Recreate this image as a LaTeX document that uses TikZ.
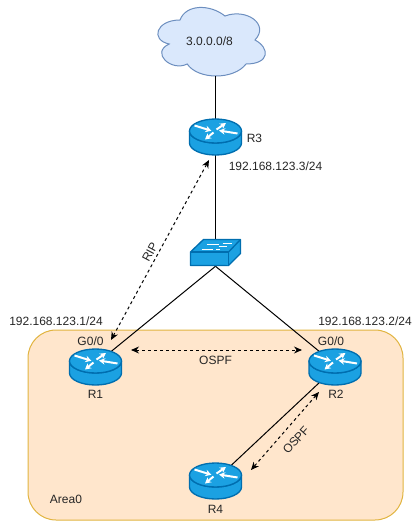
\documentclass[tikz,border=0pt]{standalone}
\usepackage{xcolor}
\usepackage{fontspec}
\setmainfont{Liberation Sans}
\usetikzlibrary{arrows.meta,shapes.geometric}
\definecolor{iconfill}{HTML}{1BA1E2}
\definecolor{iconline}{HTML}{006EAF}
\definecolor{cloudfill}{HTML}{DAE8FC}
\definecolor{cloudline}{HTML}{6C8EBF}
\definecolor{areafill}{HTML}{FFE6CC}
\definecolor{arealine}{HTML}{D79B00}
\tikzset{
  RouterSpot/.style={ellipse, minimum width=39pt, minimum height=27pt, inner sep=0pt},
  SwitchSpot/.style={rectangle, minimum width=38.25pt, minimum height=20.25pt, inner sep=0pt},
  IconBody/.style={draw=iconline, fill=iconfill, line width=1pt, line join=round},
  IconArrow/.style={white, line width=1.5pt, -{Stealth[length=4.5pt,width=4.8pt]}},
  Link/.style={line width=0.75pt},
  Session/.style={line width=0.75pt, dash pattern=on 2.25pt off 2.25pt,
    {Stealth[length=6pt,width=5.2pt]}-{Stealth[length=6pt,width=5.2pt]}},
  Lbl/.style={font=\fontsize{9pt}{11pt}\selectfont, text=black!85, inner sep=0pt}
}
\newcommand{\RouterIcon}[1]{%
  % #1 = node the icon sits on, units are pixels of the picture
  \begin{scope}[shift={(#1)}]
    \draw[IconBody] (-26,-6) -- (-26,6) arc[start angle=180, end angle=0, x radius=26, y radius=12]
      -- (26,-6) arc[start angle=0, end angle=180, x radius=26, y radius=12] -- cycle;
    \draw[IconBody] (0,-6) ellipse[x radius=26, y radius=12];
    \draw[IconArrow] (-21,-11.5) -- (-4,-6.2);
    \draw[IconArrow] (1,-7.5) -- (10.5,-14);
    \draw[IconArrow] (22,-3.5) -- (3.5,-6.5);
    \draw[IconArrow] (-2,-4.5) -- (-10.5,2.5);
  \end{scope}
}
\newcommand{\SwitchIcon}[1]{%
  % #1 = node the icon sits on
  \begin{scope}[shift={(#1)}]
    \draw[IconBody] (-25,-0.5) -- (-12,-13) -- (25,-13) -- (25,1) -- (13,13) -- (-25,13) -- cycle;
    \draw[IconBody] (-25,-0.5) -- (13,-0.5) -- (13,13);
    \draw[IconBody] (13,-0.5) -- (25,-13);
    \draw[white, line width=0.7pt] (-14,-3.5) -- (-3,-3.5) (4,-3.5) -- (-0,-3.5);
    \draw[white, line width=0.7pt] (-9,-8) -- (3,-8) (7,-9.5) -- (16,-9.5) (3,-6) -- (11,-6);
  \end{scope}
}

\begin{document}
\begin{tikzpicture}[x=0.75pt, y=-0.75pt]
  \useasboundingbox (0,0) rectangle (420,521);

  \draw[draw=arealine!75, fill=areafill, line width=0.75pt, rounded corners=21pt]
    (28,330) rectangle (403,520);

  \draw[draw=cloudline, fill=cloudfill, line width=0.75pt]
    (180,20) .. controls (156,20) and (150,40) .. (169.2,44)
    .. controls (150,52.8) and (171.6,72) .. (187.2,64)
    .. controls (198,80) and (234,80) .. (246,64)
    .. controls (270,64) and (270,48) .. (255,40)
    .. controls (270,24) and (246,8) .. (225,16)
    .. controls (210,4) and (186,4) .. (180,20) -- cycle;
  \node[Lbl] (cloudtext) at (209.5,41) {3.0.0.0/8};
  \coordinate (cloudfoot) at (215.5,76);

  % where the icons go
  \node[RouterSpot] (R3) at (215.5,137) {};
  \node[RouterSpot] (R1) at (95.5,367) {};
  \node[RouterSpot] (R2) at (335,367) {};
  \node[RouterSpot] (R4) at (215.5,481) {};
  \node[SwitchSpot] (SW) at (215.5,252.5) {};

  \draw[Link] (cloudfoot) -- (R3);
  \draw[Link] (R3) -- (SW);
  \draw[Link] (SW.south) -- (R1.45);
  \draw[Link] (SW.south) -- (R2.135);
  \draw[Link] (R2.225) -- (R4.45);

  \RouterIcon{R3}
  \RouterIcon{R1}
  \RouterIcon{R2}
  \RouterIcon{R4}
  \SwitchIcon{SW}

  % logical sessions
  \coordinate (ripA) at (209,160);
  \coordinate (ripB) at (111,340);
  \coordinate (ospfA) at (131,350);
  \coordinate (ospfB) at (302,350);
  \coordinate (ospfC) at (319,392);
  \coordinate (ospfD) at (251,470);
  \draw[Session] (ripA) -- (ripB);
  \draw[Session] (ospfA) -- (ospfB);
  \draw[Session] (ospfC) -- (ospfD);

  \node[Lbl] (r3name) at (254.5,138) {R3};
  \node[Lbl] (r3addr) at (275.5,166) {192.168.123.3/24};
  \node[Lbl] (r1addr) at (56,321) {192.168.123.1/24};
  \node[Lbl] (r2addr) at (365,321) {192.168.123.2/24};
  \node[Lbl] (r1port) at (90.5,341) {G0/0};
  \node[Lbl] (r2port) at (331,341) {G0/0};
  \node[Lbl] (r1name) at (95.5,394) {R1};
  \node[Lbl] (r2name) at (336,394) {R2};
  \node[Lbl] (r4name) at (215.5,509) {R4};
  \node[Lbl] (area) at (66,499) {Area0};
  \node[Lbl] (ospfmid) at (215.5,360) {OSPF};
  \node[Lbl, rotate=62] (riplbl) at (150,252) {RIP};
  \node[Lbl, rotate=48] (ospfdiag) at (296,440) {OSPF};
\end{tikzpicture}
\end{document}
